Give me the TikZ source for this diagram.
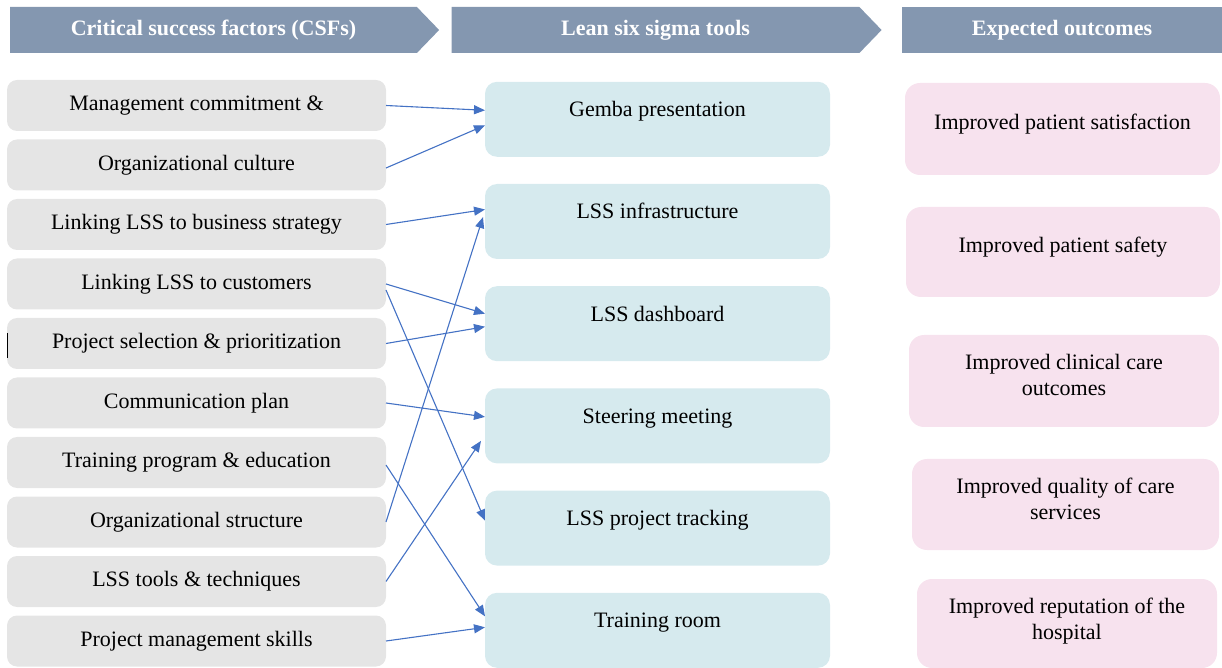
\documentclass[tikz,border=0pt]{standalone}
\usepackage{fontspec}
\setmainfont{Liberation Serif}
\usetikzlibrary{shapes.symbols, arrows.meta, positioning}
\definecolor{bannerblue}{HTML}{8497B0}
\definecolor{csfgray}{HTML}{E5E5E5}
\definecolor{toolcyan}{HTML}{D6EAEE}
\definecolor{outpink}{HTML}{F7E2EE}
\definecolor{linkblue}{HTML}{4472C4}
\newcommand{\lift}[2]{\raisebox{#1}[\height][\depth]{\begin{tabular}{@{}c@{}}#2\end{tabular}}}
\tikzstyle{banner} = [signal, signal to=east, signal pointer angle=92, minimum width=214.5pt, minimum height=23pt, inner sep=0pt, fill=bannerblue, text=white, font=\fontsize{11}{13}\selectfont\bfseries]
\tikzstyle{csf} = [rectangle, rounded corners=5pt, minimum width=189.5pt, minimum height=25.5pt, inner sep=0pt, outer sep=0pt, fill=csfgray, font=\fontsize{11}{13}\selectfont]
\tikzstyle{tool} = [rectangle, rounded corners=6pt, minimum width=172.5pt, minimum height=37.5pt, inner sep=0pt, outer sep=0pt, text height=7.5pt, text depth=10pt, fill=toolcyan, font=\fontsize{11}{13}\selectfont]
\tikzstyle{outcome} = [rectangle, rounded corners=7.5pt, minimum height=46pt, inner sep=0pt, outer sep=0pt, fill=outpink, font=\fontsize{11}{13}\selectfont]
\tikzstyle{arrow} = [-{Triangle[length=5.5pt,width=4.5pt]}, line width=0.55pt, draw=linkblue]

\begin{document}
\begin{tikzpicture}[x=0.5pt, y=-0.5pt]
	\useasboundingbox (0,0) rectangle (1222,668);
	% headers
	\node (csfhead) [banner] at (213.5,30) {Critical success factors (CSFs)};
	\node (toolhead) [banner, minimum width=215pt] at (655.5,30) {Lean six sigma tools};
	\node (outhead) [banner, rectangle, minimum width=160pt] at (1062,30) {Expected outcomes};
	
	% critical success factors
	\node (mgmt) [csf] at (196.5,105.5) {Management commitment \&};
	\node (culture) [csf, below=4.25pt of mgmt] {Organizational culture};
	\node (strategy) [csf, below=4.25pt of culture] {Linking LSS to business strategy};
	\node (customers) [csf, below=4.25pt of strategy] {Linking LSS to customers};
	\node (selection) [csf, below=4.25pt of customers] {Project selection \& prioritization};
	\node (communication) [csf, below=4.25pt of selection] {Communication plan};
	\node (training) [csf, below=4.25pt of communication] {Training program \& education};
	\node (structure) [csf, below=4.25pt of training] {Organizational structure};
	\node (tools) [csf, below=4.25pt of structure] {LSS tools \& techniques};
	\node (pmskills) [csf, below=4.25pt of tools] {Project management skills};
	\draw [line width=0.5pt] (7,333) -- (7,358);
	
	% lean six sigma tools
	\node (gemba) [tool] at (657.5,119.3) {Gemba presentation};
	\node (infra) [tool, below=13.6pt of gemba] {LSS infrastructure};
	\node (dashboard) [tool, below=13.6pt of infra] {LSS dashboard};
	\node (steering) [tool, below=13.6pt of dashboard] {Steering meeting};
	\node (tracking) [tool, below=13.6pt of steering] {LSS project tracking};
	\node (trainingroom) [tool, below=13.6pt of tracking] {Training room};
	
	% expected outcomes
	\node (satisfaction) [outcome, minimum width=157.5pt] at (1062.5,129) {\lift{2.3pt}{Improved patient satisfaction}};
	\node (safety) [outcome, minimum width=157pt, minimum height=45pt] at (1063,252) {\lift{2.3pt}{Improved patient safety}};
	\node (clinical) [outcome, minimum width=155pt] at (1064,381) {\lift{2pt}{Improved clinical care\\outcomes}};
	\node (quality) [outcome, minimum width=153.5pt, minimum height=45.5pt] at (1065.5,504.5) {\lift{1.5pt}{Improved quality of care\\services}};
	\node (reputation) [outcome, minimum width=150pt, minimum height=44.5pt] at (1067,623.5) {\lift{1pt}{Improved reputation of the\\hospital}};
	
	\draw [arrow] (mgmt.east) -- ([yshift=4.5pt]gemba.west);
	\draw [arrow] ([yshift=-1.5pt]culture.east) -- ([yshift=-3pt]gemba.west);
	\draw [arrow] (strategy.east) -- ([yshift=6pt]infra.west);
	\draw [arrow] (structure.east) -- ([xshift=-1pt, yshift=2.2pt]infra.west);
	\draw [arrow] (customers.east) -- ([yshift=5pt]dashboard.west);
	\draw [arrow] (selection.east) -- ([yshift=-1.5pt]dashboard.west);
	\draw [arrow] ([yshift=-3pt]customers.east) -- ([yshift=3.75pt]tracking.west);
	\draw [arrow] (communication.east) -- ([yshift=4.5pt]steering.west);
	\draw [arrow] (tools.east) -- ([xshift=-2pt, yshift=-7.5pt]steering.west);
	\draw [arrow] ([yshift=-1.25pt]training.east) -- ([yshift=7pt]trainingroom.west);
	\draw [arrow] (pmskills.east) -- ([yshift=1.5pt]trainingroom.west);
\end{tikzpicture}
\end{document}
